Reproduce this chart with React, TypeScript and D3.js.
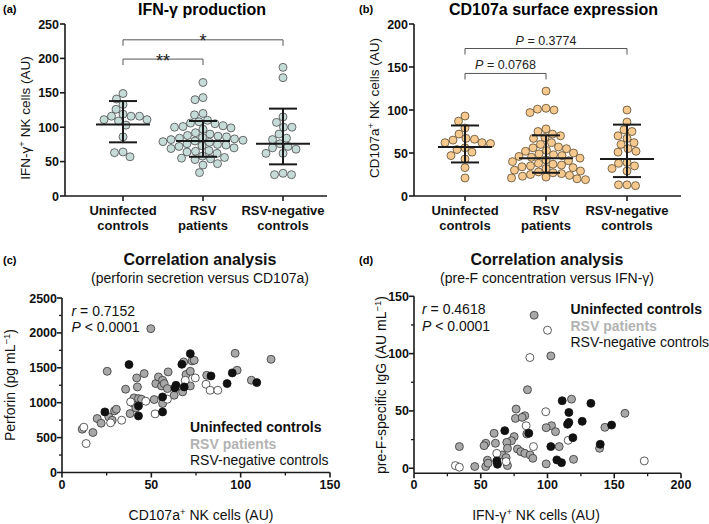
import React from 'react';
import * as d3 from 'd3';

const W = 709;
const H = 524;
const FONT = "'Liberation Sans', Arial, Helvetica, sans-serif";

// ---------- categories ----------
const groups = ['Uninfected controls', 'RSV patients', 'RSV-negative controls'];
const groupLines = [['Uninfected', 'controls'], ['RSV', 'patients'], ['RSV-negative', 'controls']];

// ---------- panel (a): IFN-γ ----------
const ifnUninfected = [149, 141, 133, 126, 119, 116, 116, 116, 111, 111, 109, 103, 86, 64, 63, 57];
const ifnRsv = [165, 143, 140, 120, 118, 110, 108, 106, 105, 102, 101, 100, 99, 97, 92, 90, 88, 87, 86, 85, 84, 83, 82, 81, 80, 79, 78, 76, 75, 74, 73, 72, 70, 69, 66, 65, 64, 62, 58, 56, 55, 54, 53, 47, 45, 34];
const ifnNegative = [187, 172, 115, 107, 100, 100, 90, 84, 82, 76, 72, 70, 68, 62, 62, 33, 31, 31];
const ifnCenter = [104, 80, 76];
const ifnLow = [78, 57, 46];
const ifnHigh = [138, 109, 127];
const ifnTicks = [0, 50, 100, 150, 200, 250];
const ifnBrackets = [
  { from: 0, to: 1, level: 199, label: '**' },
  { from: 0, to: 2, level: 227, label: '*' },
];

// ---------- panel (b): CD107a ----------
const cdUninfected = [93, 87, 79, 72, 67, 66, 65, 62, 62, 61, 56, 54, 51, 47, 43, 33, 21];
const cdRsv = [122, 102, 101, 100, 97, 78, 75, 72, 70, 68, 67, 62, 60, 57, 56, 55, 53, 52, 50, 49, 48, 47, 46, 45, 44, 42, 41, 40, 38, 37, 36, 35, 34, 33, 32, 30, 29, 28, 27, 26, 25, 24, 23, 22, 21, 20, 19];
const cdNegative = [100, 86, 77, 75, 70, 67, 62, 60, 55, 52, 51, 39, 38, 35, 32, 29, 13, 13, 12];
const cdCenter = [57, 44, 43];
const cdLow = [39, 27, 22];
const cdHigh = [82, 70.5, 83];
const cdTicks = [0, 50, 100, 150, 200];
const cdBrackets = [
  { from: 0, to: 1, level: 142.5, label: 'P = 0.0768' },
  { from: 0, to: 2, level: 171.5, label: 'P = 0.3774' },
];

// ---------- panel (c): perforin vs CD107a ----------
const perfUninfected: [number, number][] = [[24, 868], [37.5, 1546], [42.8, 954], [42.8, 811], [56.3, 1083], [56.3, 868], [63.2, 1212], [63.8, 1250], [67.1, 1550], [68.4, 1226], [71.8, 1703], [83.4, 1383], [92.4, 1274], [95.3, 1427], [109, 1288]];
const perfRsv: [number, number][] = [[11.3, 620], [17.3, 573], [19.7, 773], [21.9, 706], [25.3, 1450], [26.2, 797], [28.1, 749], [29.4, 883], [30.4, 906], [35.6, 1193], [38.1, 844], [39.5, 1000], [40.3, 1069], [41.3, 925], [41.8, 1355], [42.2, 1226], [42.8, 1059], [44.5, 1050], [46, 1417], [49.7, 2061], [51.6, 1045], [52.5, 1274], [54, 1369], [55.7, 1240], [56.3, 1321], [56.3, 988], [57.2, 1274], [59.4, 1441], [59, 1202], [62.8, 1107], [67.5, 1155], [68.1, 1584], [69.4, 1403], [71.8, 1450], [72.8, 1598], [74, 1608], [71.8, 1240], [81, 1393], [96.9, 1708], [98, 1465], [106, 1322], [117, 1622]];
const perfNegative: [number, number][] = [[12.2, 649], [13.5, 415], [27.2, 711], [33.4, 749], [38.4, 1011], [46.9, 1021], [52.1, 840], [59, 1050], [69, 1321], [74.6, 1355], [80.6, 1264], [82.9, 1178], [87.2, 1178]];
const perfXTicks = [0, 50, 100, 150];
const perfXMinor = [25, 75, 125];
const perfYTicks = [0, 500, 1000, 1500, 2000, 2500];
const perfYMinor = [250, 750, 1250, 1750, 2250];

// ---------- panel (d): pre-F IgG vs IFN-γ ----------
const preFUninfected: [number, number][] = [[111, 58.9], [132.5, 56.6], [116, 48.7], [126, 40.9], [116, 40], [115, 38.3], [148, 37.7], [86, 30.5], [68, 32.8], [102.5, 18.9], [119, 26.7], [139.5, 20.9], [107, 7.3], [110.5, 4.9], [62, 6.4], [62.5, 3.5]];
const preFRsv: [number, number][] = [[90, 133.5], [102.5, 98], [85, 68.5], [118, 60.3], [76.5, 51.6], [76, 43.5], [83, 45.8], [81, 44.4], [158, 47.9], [143, 35.7], [103, 37.1], [99, 35.4], [106, 31.9], [84.5, 29.9], [60, 30.5], [75, 27.6], [73, 24], [69.5, 22.6], [61, 21.8], [53.75, 21.8], [52.5, 19.7], [34, 18.9], [66, 11.6], [70, 17.4], [77.5, 16.8], [80, 14.5], [83, 13], [87, 11.6], [89, 8.7], [108.75, 18.9], [139, 17.4], [119.5, 7.8], [99, 3.8], [69, 9.3], [70, 2.3], [55, 7], [53.75, 1.5], [55.5, 4.4], [45.5, 1.5]];
const preFNegative: [number, number][] = [[100, 120.4], [86.8, 96.6], [98.7, 49.3], [84, 37.1], [62, 13], [89.5, 18.9], [115.5, 24.4], [69, 5.8], [31, 2.3], [34, 0.9], [172.5, 6.4]];
const preFXTicks = [0, 50, 100, 150, 200];
const preFXMinor = [25, 75, 125, 175];
const preFYTicks = [0, 50, 100, 150];
const preFYMinor = [25, 75, 125];

const AXIS = '#1a1a1a';

function swarm(vals: number[], y: (v: number) => number, cx: number, r: number) {
  const order = vals.map((_, i) => i).sort((a, b) => vals[b] - vals[a]);
  const placed: { x: number; y: number }[] = [];
  const out: { x: number; y: number }[] = new Array(vals.length);
  const d = 2 * r * 1.02;
  for (const i of order) {
    const py = y(vals[i]);
    let chosen = 0;
    for (let k = 0; k < 600; k++) {
      const dx = (k % 2 === 0 ? 1 : -1) * Math.ceil(k / 2) * 0.5;
      if (placed.every((p) => (p.x - dx) ** 2 + (p.y - py) ** 2 >= d * d)) {
        chosen = dx;
        break;
      }
    }
    placed.push({ x: chosen, y: py });
    out[i] = { x: cx + chosen, y: py };
  }
  return out;
}

function supText(before: string, sup: string, after: string) {
  return (
    <>
      {before}
      <tspan dy={-5} fontSize={9.5}>{sup}</tspan>
      <tspan dy={5}>{after}</tspan>
    </>
  );
}

type DotProps = {
  axisX: number;
  axisRight: number;
  catRange: [number, number];
  yMax: number;
  ticks: number[];
  series: number[][];
  center: number[];
  low: number[];
  high: number[];
  fill: string;
  stroke: string;
  brackets: { from: number; to: number; level: number; label: string }[];
  starLabels: boolean;
  title: string;
  label: string;
  labelX: number;
  yLabel: React.ReactNode;
  yLabelX: number;
  yLabelY: number;
};

function DotPanel(p: DotProps) {
  const top = 24;
  const bottom = 196;
  const y = d3.scaleLinear().domain([0, p.yMax]).range([bottom, top]);
  const x = d3.scalePoint<string>().domain(groups).range(p.catRange);
  const r = 4;
  const titleX = (p.axisX + p.axisRight) / 2 + 6;
  return (
    <g>
      <text x={p.labelX} y={13} fontFamily={FONT} fontWeight="bold" fontSize={11}>{p.label}</text>
      <text x={titleX} y={14.5} fontFamily={FONT} fontWeight="bold" fontSize={16} textAnchor="middle">{p.title}</text>
      {/* y axis */}
      <line x1={p.axisX} x2={p.axisX} y1={y(0)} y2={y(p.yMax)} stroke={AXIS} strokeWidth={1.6} />
      {p.ticks.map((t) => (
        <g key={t}>
          <line x1={p.axisX - 5} x2={p.axisX} y1={y(t)} y2={y(t)} stroke={AXIS} strokeWidth={1.6} />
          <text x={p.axisX - 6} y={y(t)} dy="0.36em" textAnchor="end" fontFamily={FONT} fontWeight="bold" fontSize={12.5} fill="#111">{t}</text>
        </g>
      ))}
      {/* x axis */}
      <line x1={p.axisX} x2={p.axisRight} y1={bottom} y2={bottom} stroke={AXIS} strokeWidth={1.6} />
      {groups.map((g, i) => (
        <g key={g}>
          <line x1={x(g)} x2={x(g)} y1={bottom} y2={bottom + 5} stroke={AXIS} strokeWidth={1.6} />
          <text x={x(g)} y={215} textAnchor="middle" fontFamily={FONT} fontWeight="bold" fontSize={13} fill="#111">{groupLines[i][0]}</text>
          <text x={x(g)} y={229.5} textAnchor="middle" fontFamily={FONT} fontWeight="bold" fontSize={13} fill="#111">{groupLines[i][1]}</text>
        </g>
      ))}
      {/* y label */}
      <text transform={`translate(${p.yLabelX},${p.yLabelY}) rotate(-90)`} textAnchor="middle" fontFamily={FONT} fontSize={13.5} fill="#111">{p.yLabel}</text>
      {/* points */}
      {p.series.map((vals, gi) =>
        swarm(vals, y, x(groups[gi]) as number, r).map((pt, i) => (
          <circle key={`${gi}-${i}`} cx={pt.x} cy={pt.y} r={r} fill={p.fill} stroke={p.stroke} strokeWidth={0.8} />
        ))
      )}
      {/* median and error bars */}
      {groups.map((g, i) => {
        const cx = x(g) as number;
        return (
          <g key={`bar-${g}`} stroke="#1a1a1a" strokeWidth={2}>
            <line x1={cx - 27} x2={cx + 27} y1={y(p.center[i])} y2={y(p.center[i])} />
            <line x1={cx} x2={cx} y1={y(p.low[i])} y2={y(p.high[i])} />
            <line x1={cx - 14} x2={cx + 14} y1={y(p.low[i])} y2={y(p.low[i])} />
            <line x1={cx - 14} x2={cx + 14} y1={y(p.high[i])} y2={y(p.high[i])} />
          </g>
        );
      })}
      {/* brackets */}
      {p.brackets.map((b, i) => {
        const x1 = x(groups[b.from]) as number;
        const x2 = x(groups[b.to]) as number;
        const by = y(b.level);
        return (
          <g key={`br-${i}`}>
            <path d={`M${x1},${by + 6}V${by}H${x2}V${by + 6}`} fill="none" stroke="#555" strokeWidth={1} />
            {p.starLabels ? (
              <text x={(x1 + x2) / 2} y={by + 7.5} textAnchor="middle" fontFamily={FONT} fontSize={18} fill="#222">{b.label}</text>
            ) : (
              <text x={(x1 + x2) / 2} y={by - 4} textAnchor="middle" fontFamily={FONT} fontSize={12.5} fill="#222">
                <tspan fontStyle="italic">P</tspan>
                {b.label.slice(1)}
              </text>
            )}
          </g>
        );
      })}
    </g>
  );
}

type ScatterProps = {
  xScale: d3.ScaleLinear<number, number>;
  yScale: d3.ScaleLinear<number, number>;
  xTicks: number[];
  xMinor: number[];
  yTicks: number[];
  yMinor: number[];
  black: [number, number][];
  gray: [number, number][];
  white: [number, number][];
  label: string;
  labelX: number;
  subtitle: React.ReactNode;
  titleX: number;
  statX: number;
  statY: number;
  rText: string;
  legendX: number;
  legendY: number;
  xLabel: React.ReactNode;
  xLabelX: number;
  yLabel: React.ReactNode;
  yLabelX: number;
  yLabelY: number;
};

function ScatterPanel(p: ScatterProps) {
  const xs = p.xScale;
  const ys = p.yScale;
  const [x0, x1] = xs.range();
  const [yb, yt] = ys.range();
  const r = 4;
  return (
    <g>
      <text x={p.labelX} y={264} fontFamily={FONT} fontWeight="bold" fontSize={11}>{p.label}</text>
      <text x={p.titleX} y={265} textAnchor="middle" fontFamily={FONT} fontWeight="bold" fontSize={16} fill="#111">Correlation analysis</text>
      <text x={p.titleX} y={283} textAnchor="middle" fontFamily={FONT} fontSize={14} fill="#111">{p.subtitle}</text>
      {/* axes */}
      <line x1={x0} x2={x0} y1={yb} y2={yt} stroke={AXIS} strokeWidth={1.6} />
      <line x1={x0} x2={x1} y1={yb} y2={yb} stroke={AXIS} strokeWidth={1.6} />
      {p.yTicks.map((t) => (
        <g key={`y${t}`}>
          <line x1={x0 - 5} x2={x0} y1={ys(t)} y2={ys(t)} stroke={AXIS} strokeWidth={1.6} />
          <text x={x0 - 5} y={ys(t)} dy="0.36em" textAnchor="end" fontFamily={FONT} fontWeight="bold" fontSize={12.5} fill="#111">{t}</text>
        </g>
      ))}
      {p.yMinor.map((t) => (
        <line key={`ym${t}`} x1={x0 - 3} x2={x0} y1={ys(t)} y2={ys(t)} stroke={AXIS} strokeWidth={1.3} />
      ))}
      {p.xTicks.map((t) => (
        <g key={`x${t}`}>
          <line x1={xs(t)} x2={xs(t)} y1={yb} y2={yb + 5} stroke={AXIS} strokeWidth={1.6} />
          <text x={xs(t)} y={489} textAnchor="middle" fontFamily={FONT} fontWeight="bold" fontSize={12.5} fill="#111">{t}</text>
        </g>
      ))}
      {p.xMinor.map((t) => (
        <line key={`xm${t}`} x1={xs(t)} x2={xs(t)} y1={yb} y2={yb + 3} stroke={AXIS} strokeWidth={1.3} />
      ))}
      <text x={p.xLabelX} y={520} textAnchor="middle" fontFamily={FONT} fontSize={14} fill="#111">{p.xLabel}</text>
      <text transform={`translate(${p.yLabelX},${p.yLabelY}) rotate(-90)`} textAnchor="middle" fontFamily={FONT} fontSize={14} fill="#111">{p.yLabel}</text>
      {/* points */}
      {p.gray.map((d, i) => (
        <circle key={`g${i}`} cx={xs(d[0])} cy={ys(d[1])} r={r} fill="#a8a8a8" stroke="#333" strokeWidth={0.8} />
      ))}
      {p.white.map((d, i) => (
        <circle key={`w${i}`} cx={xs(d[0])} cy={ys(d[1])} r={r} fill="#ffffff" stroke="#333" strokeWidth={0.8} />
      ))}
      {p.black.map((d, i) => (
        <circle key={`b${i}`} cx={xs(d[0])} cy={ys(d[1])} r={r} fill="#111" stroke="#111" strokeWidth={0.8} />
      ))}
      {/* stats */}
      <text x={p.statX} y={p.statY} fontFamily={FONT} fontSize={14} fill="#111">
        <tspan fontStyle="italic">r</tspan> = {p.rText}
      </text>
      <text x={p.statX} y={p.statY + 16.5} fontFamily={FONT} fontSize={14} fill="#111">
        <tspan fontStyle="italic">P</tspan> &lt; 0.0001
      </text>
      {/* legend */}
      <text x={p.legendX} y={p.legendY} fontFamily={FONT} fontWeight="bold" fontSize={14} fill="#111">{groups[0]}</text>
      <text x={p.legendX} y={p.legendY + 16.5} fontFamily={FONT} fontWeight="bold" fontSize={14} fill="#b3b3b3">{groups[1]}</text>
      <text x={p.legendX} y={p.legendY + 33} fontFamily={FONT} fontSize={14} fill="#111">{groups[2]}</text>
    </g>
  );
}

export default function App() {
  const perfX = d3.scaleLinear().domain([0, 150]).range([62, 330]);
  const perfY = d3.scaleLinear().domain([0, 2500]).range([472.5, 298]);
  const preFX = d3.scaleLinear().domain([0, 200]).range([414, 681]);
  const preFY = d3.scaleLinear().domain([-4.4, 150]).range([473.3, 296.3]);
  return (
    <svg width={W} height={H} viewBox={`0 0 ${W} ${H}`} style={{ position: 'absolute', left: 0, top: 0, background: '#fff' }}>
      <rect width={W} height={H} fill="#fff" />
      <DotPanel
        axisX={65}
        axisRight={327}
        catRange={[123, 283]}
        yMax={250}
        ticks={ifnTicks}
        series={[ifnUninfected, ifnRsv, ifnNegative]}
        center={ifnCenter}
        low={ifnLow}
        high={ifnHigh}
        fill="#c6dcd8"
        stroke="#4a4a4a"
        brackets={ifnBrackets}
        starLabels={true}
        title="IFN-γ production"
        label="(a)"
        labelX={3}
        yLabel={supText('IFN-γ', '+', ' NK cells (AU)')}
        yLabelX={30}
        yLabelY={118}
      />
      <DotPanel
        axisX={414}
        axisRight={681}
        catRange={[465, 627]}
        yMax={200}
        ticks={cdTicks}
        series={[cdUninfected, cdRsv, cdNegative]}
        center={cdCenter}
        low={cdLow}
        high={cdHigh}
        fill="#f6c98f"
        stroke="#5a4a30"
        brackets={cdBrackets}
        starLabels={false}
        title="CD107a surface expression"
        label="(b)"
        labelX={359}
        yLabel={supText('CD107a', '+', ' NK cells (AU)')}
        yLabelX={379}
        yLabelY={108}
      />
      <ScatterPanel
        xScale={perfX}
        yScale={perfY}
        xTicks={perfXTicks}
        xMinor={perfXMinor}
        yTicks={perfYTicks}
        yMinor={perfYMinor}
        black={perfUninfected}
        gray={perfRsv}
        white={perfNegative}
        label="(c)"
        labelX={3}
        subtitle="(perforin secretion versus CD107a)"
        titleX={200}
        statX={71.5}
        statY={315.5}
        rText="0.7152"
        legendX={190}
        legendY={432}
        xLabel={supText('CD107a', '+', ' NK cells (AU)')}
        xLabelX={201}
        yLabel={supText('Perforin (pg mL', '−1', ')')}
        yLabelX={15}
        yLabelY={385}
      />
      <ScatterPanel
        xScale={preFX}
        yScale={preFY}
        xTicks={preFXTicks}
        xMinor={preFXMinor}
        yTicks={preFYTicks}
        yMinor={preFYMinor}
        black={preFUninfected}
        gray={preFRsv}
        white={preFNegative}
        label="(d)"
        labelX={359}
        subtitle="(pre-F concentration versus IFN-γ)"
        titleX={547}
        statX={422}
        statY={314}
        rText="0.4618"
        legendX={570.5}
        legendY={314}
        xLabel={supText('IFN-γ', '+', ' NK cells (AU)')}
        xLabelX={536}
        yLabel={supText('pre-F-specific IgG (AU mL', '−1', ')')}
        yLabelX={386}
        yLabelY={385}
      />
    </svg>
  );
}
